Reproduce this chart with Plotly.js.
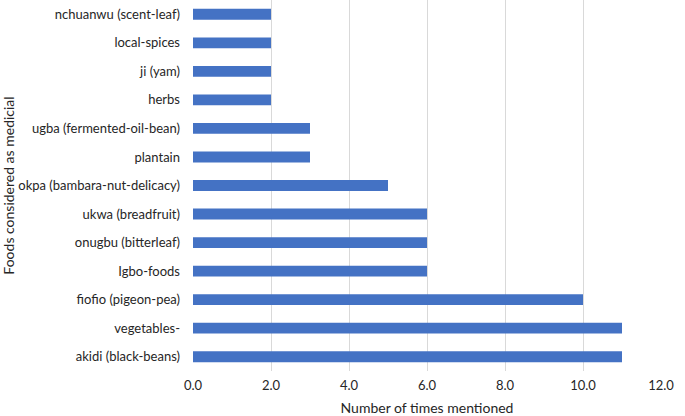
<!DOCTYPE html>
<html>
<head>
<meta charset="utf-8">
<script src="https://cdn.plot.ly/plotly-3.0.1.min.js"></script>
<style>html,body{margin:0;padding:0;background:#fff;}#chart{width:685px;height:416px;}</style>
</head>
<body>
<div id="chart"></div>
<script>
const categories = [
  "akidi (black-beans)",
  "vegetables-",
  "fiofio (pigeon-pea)",
  "Igbo-foods",
  "onugbu (bitterleaf)",
  "ukwa (breadfruit)",
  "okpa (bambara-nut-delicacy)",
  "plantain",
  "ugba (fermented-oil-bean)",
  "herbs",
  "ji (yam)",
  "local-spices",
  "nchuanwu (scent-leaf)"
];
const counts = [11, 11, 10, 6, 6, 6, 5, 3, 3, 2, 2, 2, 2];
const xTicks = [0, 2, 4, 6, 8, 10, 12];
const xTickLabels = ["0.0", "2.0", "4.0", "6.0", "8.0", "10.0", "12.0"];

const font = "Lato, 'Open Sans', sans-serif";
const data = [{
  type: 'bar',
  orientation: 'h',
  x: counts,
  y: categories,
  width: 0.38,
  marker: {color: '#4472C4'},
  hoverinfo: 'x+y'
}];
const layout = {
  width: 685, height: 416,
  margin: {l: 193, r: 24, t: 0, b: 45},
  paper_bgcolor: '#fff', plot_bgcolor: '#fff',
  showlegend: false,
  font: {family: font, size: 13, color: '#262626'},
  xaxis: {
    range: [0, 12],
    tickvals: xTicks, ticktext: xTickLabels,
    showgrid: true, gridcolor: '#d9d9d9', gridwidth: 1,
    zeroline: false, showline: false, ticks: '',
    ticklabelstandoff: 5,
    tickfont: {size: 13, color: '#262626'},
    title: {text: 'Number of times mentioned', font: {size: 14, color: '#262626'}, standoff: 14},
    automargin: false
  },
  yaxis: {
    type: 'category',
    categoryorder: 'array', categoryarray: categories,
    range: [-0.5, 12.5],
    showgrid: false, zeroline: false, showline: false, ticks: '',
    ticklabelstandoff: 12,
    tickfont: {size: 13, color: '#262626'},
    title: {text: 'Foods considered as medicial', font: {size: 14, color: '#262626'}},
    automargin: false
  }
};
Plotly.newPlot('chart', data, layout, {displayModeBar: false, staticPlot: true});
</script>
</body>
</html>
